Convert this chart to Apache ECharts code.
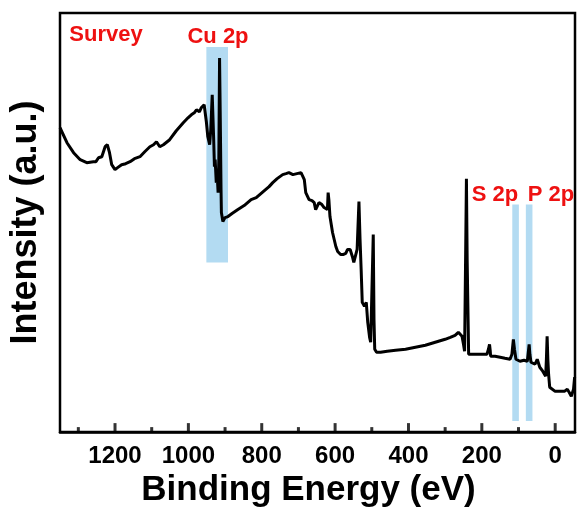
<!DOCTYPE html>
<html lang="en">
<head>
    <meta charset="UTF-8">
    <title>XPS Survey</title>
    <script src="https://cdn.jsdelivr.net/npm/echarts@6/dist/echarts.min.js"></script>
</head>
<body style="margin:0">
    <div id="main" style="width: 585px; height: 513px"></div>
    <script>
        // binding energy (eV) and intensity (a.u.)
        var energy = [1350, 1345, 1331, 1313, 1295, 1277, 1259, 1252, 1245, 1236, 1227, 1221, 1215, 1209, 1200,
            1193, 1182, 1171, 1159, 1147, 1132, 1119, 1105, 1095, 1087, 1078, 1068, 1051, 1033, 1014, 1001,
            992, 984, 978, 970, 965, 957, 951, 947, 942, 939, 935, 931, 929, 927, 924, 921, 919, 917, 915,
            913, 911, 910, 906, 900, 892, 881, 865, 848, 829, 815, 796, 780, 770, 758, 743, 734, 726, 715,
            704, 693, 689, 684, 680, 671, 663, 657, 653, 644, 636, 630, 621, 619, 617, 614, 607, 598, 593,
            585, 577, 571, 566, 559, 553, 549, 544, 540, 535, 532, 529, 526, 520, 515, 511, 506, 503, 499,
            496, 494, 492, 487, 476, 458, 435, 408, 381, 354, 327, 300, 286, 273, 264, 259, 254, 250, 247,
            244, 242, 240, 236, 223, 205, 186, 182, 179, 177, 176, 164, 150, 137, 123, 118, 114, 111, 107,
            96, 85, 76, 73, 71, 69, 66, 61, 55, 49, 46, 42, 34, 26, 24, 22, 20, 18, 15, 12, 1, -12, -26,
            -33, -38, -44, -48, -50, -53];
        var intensity = [305, 303, 290, 280, 273, 270, 271, 271, 275, 276, 286, 288, 280, 268, 263,
            265, 268, 269, 271, 274, 276, 281, 286, 288, 291, 286, 288, 293, 302, 310, 315,
            318, 320, 323, 321, 325, 328, 311, 296, 288, 303, 338, 293, 266, 273, 250, 255, 240, 273, 375,
            313, 243, 220, 211, 215, 216, 219, 223, 227, 233, 235, 241, 246, 250, 254, 258, 259, 260, 258,
            259, 260, 257, 253, 240, 233, 232, 230, 223, 230, 228, 225, 223, 240, 233, 216, 200, 186, 181,
            178, 178, 179, 183, 183, 176, 170, 172, 183, 231, 193, 163, 130, 126, 130, 110, 95, 90, 88,
            198, 113, 83, 80, 80, 81, 82, 83, 85, 87, 90, 93, 95, 97, 100, 98, 96, 88, 81,
            183, 254, 173, 78, 78, 78, 78, 83, 88, 81, 76, 76, 75, 74, 73, 78, 93, 83, 73,
            71, 72, 71, 81, 88, 78, 70, 70, 68, 73, 71, 65, 61, 56, 73, 96, 73, 58, 45, 43, 41, 41, 41,
            43, 40, 36, 34, 43, 55];

        // shaded regions: [from eV, to eV], top, bottom
        var bandNames = ['Cu 2p', 'S 2p', 'P 2p'];
        var bandRanges = [[951, 892], [117, 99], [80, 62]];
        var bandTops = [386, 228, 228];
        var bandBottoms = [170, 11, 11];

        var majorTicks = [0, 200, 400, 600, 800, 1000, 1200];
        var minorTicks = [100, 300, 500, 700, 900, 1100, 1300];

        var font = 'Arial, "Liberation Sans", sans-serif';

        var points = energy.map(function (e, i) { return [e, intensity[i]]; });
        var areas = bandRanges.map(function (r, i) {
            return [{ xAxis: r[0], yAxis: bandTops[i] }, { xAxis: r[1], yAxis: bandBottoms[i] }];
        });

        var chart = echarts.init(document.getElementById('main'));

        function tag(text, x, y) {
            return {
                type: 'text', x: x, y: y, z: 10,
                style: {
                    text: text, fill: '#ee1111', font: 'bold 22px ' + font,
                    textAlign: 'center', textVerticalAlign: 'middle'
                }
            };
        }

        // inward ticks: thin rects standing on the bottom axis
        function ticks(values, len) {
            return {
                type: 'scatter', silent: true, clip: false, z: 6,
                symbol: 'rect', symbolSize: [3, len],
                itemStyle: { color: '#000' },
                data: values.map(function (v) { return [v, len / 2]; })
            };
        }

        chart.setOption({
            animation: false,
            grid: {
                left: 58, right: 10, top: 13, bottom: 80,
                show: true, borderColor: '#000', borderWidth: 2.5
            },
            xAxis: {
                type: 'value', inverse: true, min: -54, max: 1350,
                name: 'Binding Energy (eV)', nameLocation: 'middle', nameGap: 33,
                nameTextStyle: { fontSize: 35, fontWeight: 'bold', color: '#000', fontFamily: font, padding: [0, 18, 0, 0] },
                axisLine: { show: true, lineStyle: { color: '#000', width: 2.5 } },
                axisTick: { show: false },
                axisLabel: {
                    margin: 12, fontSize: 24, fontWeight: 'bold', color: '#000', fontFamily: font,
                    customValues: majorTicks, formatter: function (v) { return String(v); }
                },
                splitLine: { show: false }
            },
            yAxis: {
                type: 'value', min: 0, max: 420,
                name: 'Intensity (a.u.)', nameLocation: 'middle', nameGap: 16,
                nameTextStyle: { fontSize: 36, fontWeight: 'bold', color: '#000', fontFamily: font },
                axisLine: { show: false, onZero: false }, axisTick: { show: false },
                axisLabel: { show: false }, splitLine: { show: false }
            },
            series: [{
                type: 'line', data: [], silent: true,
                markArea: { silent: true, itemStyle: { color: '#b3dbf2' }, label: { show: false }, data: areas }
            }, {
                type: 'line', data: points, showSymbol: false, z: 5,
                lineStyle: { color: '#000', width: 3 }
            },
                ticks(majorTicks, 9),
                ticks(minorTicks, 5)
            ],
            graphic: [
                tag('Survey', 106, 35),
                tag(bandNames[0], 218, 36.5),
                tag(bandNames[1], 495, 194.5),
                tag(bandNames[2], 551, 194.5)
            ]
        });
    </script>
</body>
</html>
